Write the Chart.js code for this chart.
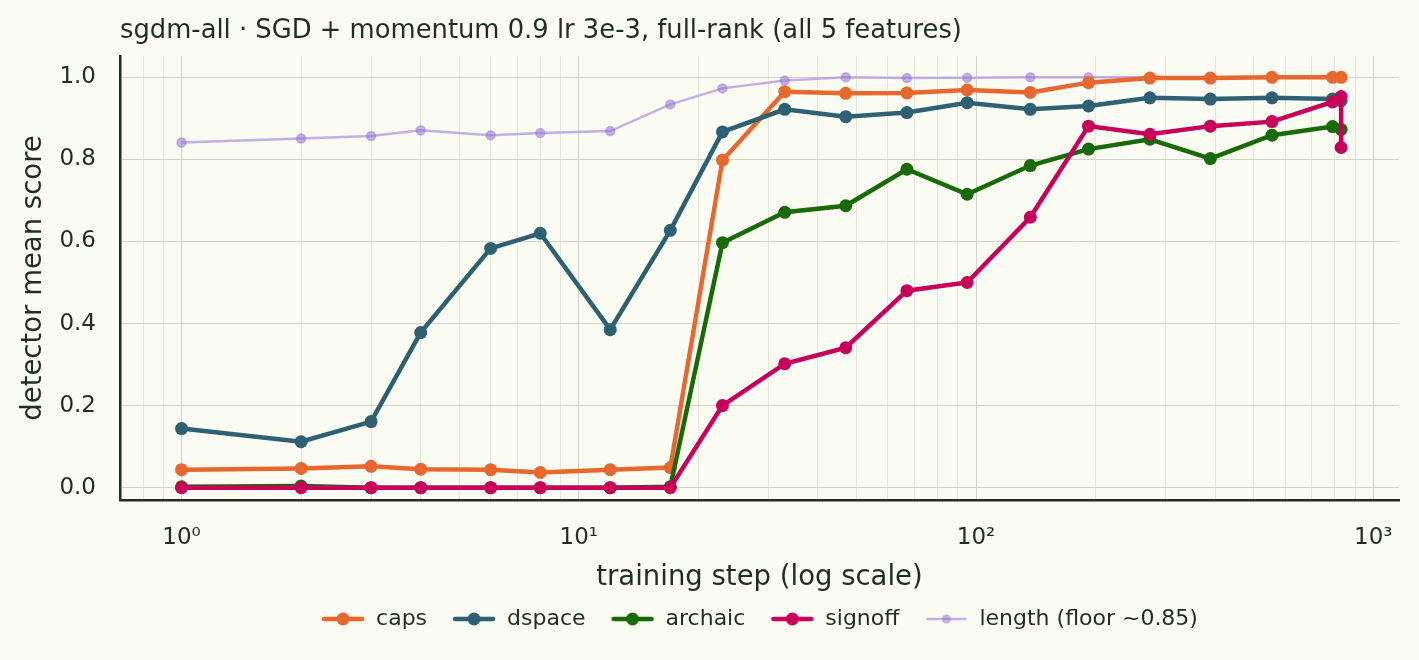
<!DOCTYPE html>
<html>
<head>
<meta charset="utf-8">
<script src="https://cdn.jsdelivr.net/npm/chart.js@4.4.1/dist/chart.umd.min.js"></script>
<style>
html, body { margin: 0; padding: 0; background: #fafbf1; }
#wrap { width: 1419px; height: 660px; }
</style>
</head>
<body>
<div id="wrap"><canvas id="myChart" width="1419" height="660"></canvas></div>
<script>
// training steps (x, log scale)
const steps = [1, 2, 3, 4, 6, 8, 12, 17, 23, 33, 47, 67, 95, 137, 192, 274, 389, 556, 790, 830];
// signoff has one extra point logged at the final step
const signoffSteps = steps.concat([830]);

const caps    = [0.044, 0.047, 0.052, 0.045, 0.044, 0.037, 0.044, 0.049, 0.798, 0.965, 0.961, 0.962, 0.969, 0.963, 0.987, 0.998, 0.998, 1.000, 1.000, 1.000];
const dspace  = [0.144, 0.112, 0.161, 0.378, 0.583, 0.620, 0.385, 0.627, 0.867, 0.922, 0.904, 0.914, 0.938, 0.922, 0.930, 0.950, 0.947, 0.950, 0.947, 0.943];
const archaic = [0.002, 0.004, 0.000, 0.000, 0.000, 0.000, 0.000, 0.002, 0.597, 0.671, 0.687, 0.776, 0.715, 0.785, 0.825, 0.849, 0.802, 0.859, 0.880, 0.873];
const signoff = [0.000, 0.000, 0.000, 0.000, 0.000, 0.000, 0.000, 0.000, 0.200, 0.302, 0.341, 0.480, 0.500, 0.659, 0.881, 0.861, 0.881, 0.892, 0.940, 0.953, 0.829];
const length  = [0.841, 0.851, 0.857, 0.871, 0.859, 0.864, 0.869, 0.934, 0.973, 0.992, 1.000, 0.998, 0.999, 1.000, 1.000, 1.000, 1.000, 1.000, 1.000, 1.000];

const xTickValues = [0.8, 0.9];
for (let d = 1; d <= 100; d *= 10) {
	for (let k = 1; k <= 9; k++) xTickValues.push(k * d);
}
xTickValues.push(1000);
const xTickLabels = { 1: '10⁰', 10: '10¹', 100: '10²', 1000: '10³' };
const yTickValues = [0, 0.2, 0.4, 0.6, 0.8, 1.0];

const ink = '#1f2f1f';
const font = 'DejaVu Sans';

function pts(xs, ys){
	return ys.map(function(v, i){ return { x: xs[i], y: v }; });
}

// small legend marker: a line with a dot in the middle
function marker(lineColor, dotColor, r, lw){
	let c = document.createElement('canvas');
	c.width = 44;
	c.height = 16;
	let g = c.getContext('2d');
	g.strokeStyle = lineColor;
	g.lineWidth = lw;
	g.lineCap = 'round';
	g.beginPath();
	g.moveTo(3, 8);
	g.lineTo(41, 8);
	g.stroke();
	g.fillStyle = dotColor;
	g.beginPath();
	g.arc(22, 8, r, 0, Math.PI * 2);
	g.fill();
	return c;
}

function series(label, xs, ys, color, order){
	return {
		label: label,
		data: pts(xs, ys),
		borderColor: color,
		backgroundColor: color,
		pointBackgroundColor: color,
		pointBorderColor: color,
		borderWidth: 4.5,
		pointRadius: 6.5,
		pointBorderWidth: 0,
		pointHoverRadius: 6.5,
		tension: 0,
		order: order,
		legendMarker: marker(color, color, 6.5, 4.5)
	};
}

const lenLine = 'rgba(176, 150, 224, 0.75)';
const lenDot = 'rgba(150, 115, 215, 0.55)';

const datasets = [
	series('caps', steps, caps, '#e8672f', 5),
	series('dspace', steps, dspace, '#2d6073', 4),
	series('archaic', steps, archaic, '#186a08', 3),
	series('signoff', signoffSteps, signoff, '#c8005a', 2),
	{
		label: 'length (floor ~0.85)',
		data: pts(steps, length),
		borderColor: lenLine,
		backgroundColor: lenDot,
		pointBackgroundColor: lenDot,
		pointBorderColor: 'rgba(150, 115, 215, 0.45)',
		borderWidth: 2.5,
		pointRadius: 4.5,
		pointBorderWidth: 1.5,
		tension: 0,
		order: 6,
		legendMarker: marker(lenLine, lenDot, 4.5, 2.5)
	}
];

const config = {
	type: 'line',
	data: { datasets: datasets },
	options: {
		responsive: false,
		animation: false,
		devicePixelRatio: 1,
		layout: { padding: { left: 0, right: 20, top: 0, bottom: 20 } },
		plugins: {
			tooltip: { enabled: false },
			title: {
				display: true,
				text: 'sgdm-all · SGD + momentum 0.9 lr 3e-3, full-rank (all 5 features)',
				align: 'start',
				fullSize: false,
				color: ink,
				font: { family: font, size: 25.8, weight: 'normal' },
				padding: { top: 16, bottom: 9 }
			},
			legend: {
				position: 'bottom',
				fullSize: false,
				labels: {
					color: ink,
					font: { family: font, size: 22 },
					usePointStyle: true,
					pointStyleWidth: 44,
					boxHeight: 16,
					padding: 25,
					sort: function(a, b){ return a.datasetIndex - b.datasetIndex; },
					generateLabels: function(chart){
						return chart.data.datasets.map(function(ds, i){
							return {
								text: ds.label,
								fontColor: ink,
								pointStyle: ds.legendMarker,
								strokeStyle: ds.borderColor,
								fillStyle: ds.borderColor,
								lineWidth: 0,
								hidden: false,
								datasetIndex: i
							};
						});
					}
				}
			}
		},
		scales: {
			x: {
				type: 'logarithmic',
				min: 0.715,
				max: 1161,
				afterBuildTicks: function(scale){
					scale.ticks = xTickValues.map(function(v){ return { value: v, major: xTickLabels[v] != null }; });
				},
				afterFit: function(scale){ scale.height = 83; },
				ticks: {
					autoSkip: false,
					maxRotation: 0,
					color: ink,
					font: { family: font, size: 23 },
					padding: 24,
					callback: function(value){ return xTickLabels[value] || ''; }
				},
				grid: {
					drawTicks: false,
					lineWidth: 1,
					color: function(ctx){
						return (ctx.tick && xTickLabels[ctx.tick.value]) ? '#d2d3c9' : '#e6e7dc';
					}
				},
				border: { display: true, color: ink, width: 2.5 },
				title: {
					display: true,
					text: 'training step (log scale)',
					color: ink,
					font: { family: font, size: 27.5 },
					padding: { top: 0, bottom: -11 }
				}
			},
			y: {
				min: -0.03,
				max: 1.052,
				afterBuildTicks: function(scale){
					scale.ticks = yTickValues.map(function(v){ return { value: v }; });
				},
				afterFit: function(scale){ scale.width = 120; },
				ticks: {
					color: ink,
					font: { family: font, size: 23 },
					padding: 24,
					callback: function(value){ return value.toFixed(1); }
				},
				grid: { drawTicks: false, color: '#d2d3c9', lineWidth: 1 },
				border: { display: true, color: ink, width: 2.5 },
				title: {
					display: true,
					text: 'detector mean score',
					color: ink,
					font: { family: font, size: 27.5 },
					padding: { top: 17, bottom: 0 }
				}
			}
		}
	}
};

window.addEventListener('load', function(){
	new Chart(document.getElementById('myChart'), config);
});
</script>
</body>
</html>
